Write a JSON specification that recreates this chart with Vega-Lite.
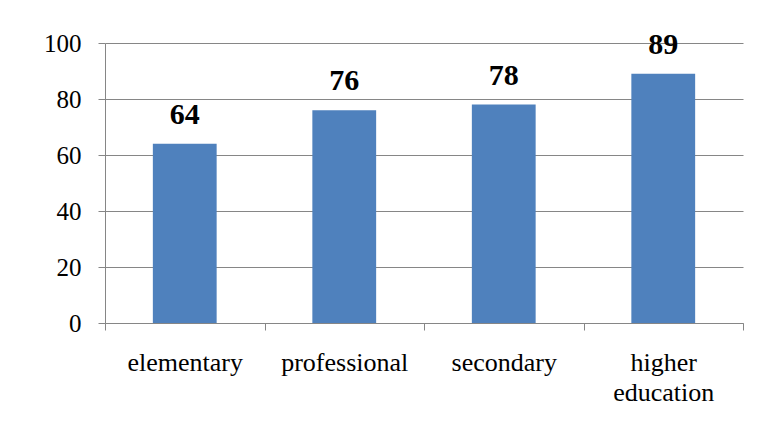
{
  "$schema": "https://vega.github.io/schema/vega-lite/v6.json",
  "width": 638,
  "height": 280,
  "autosize": {"type": "none"},
  "padding": {"left": 105, "top": 43, "right": 15, "bottom": 106},
  "background": "white",
  "config": {
    "view": {"stroke": null}
  },
  "data": {
    "values": [
      {"level": "elementary", "value": 64},
      {"level": "professional", "value": 76},
      {"level": "secondary", "value": 78},
      {"level": "higher education", "value": 89}
    ]
  },
  "encoding": {
    "x": {
      "field": "level",
      "type": "nominal",
      "sort": null,
      "scale": {"paddingInner": 0, "paddingOuter": 0},
      "axis": {
        "title": null,
        "labelAngle": 0,
        "labelFont": "Liberation Serif",
        "labelFontSize": 26,
        "labelColor": "black",
        "labelPadding": 19,
        "labelLineHeight": 30,
        "labelExpr": "datum.label == 'higher education' ? ['higher', 'education'] : datum.label",
        "tickBand": "extent",
        "tickSize": 7,
        "tickColor": "#868686",
        "domainColor": "#868686",
        "grid": false
      }
    },
    "y": {
      "field": "value",
      "type": "quantitative",
      "scale": {"domain": [0, 100], "nice": false},
      "axis": {
        "title": null,
        "values": [0, 20, 40, 60, 80, 100],
        "labelFont": "Liberation Serif",
        "labelFontSize": 25,
        "labelColor": "black",
        "labelPadding": 17,
        "tickSize": 7,
        "tickColor": "#868686",
        "domainColor": "#868686",
        "gridColor": "#868686",
        "gridOpacity": 1,
        "grid": true
      }
    }
  },
  "layer": [
    {
      "mark": {"type": "bar", "color": "#4F81BD", "width": {"band": 0.4}}
    },
    {
      "mark": {
        "type": "text",
        "font": "Liberation Serif",
        "fontWeight": "bold",
        "fontSize": 30,
        "color": "black",
        "baseline": "alphabetic",
        "dy": -20
      },
      "encoding": {"text": {"field": "value", "type": "quantitative"}}
    }
  ]
}
